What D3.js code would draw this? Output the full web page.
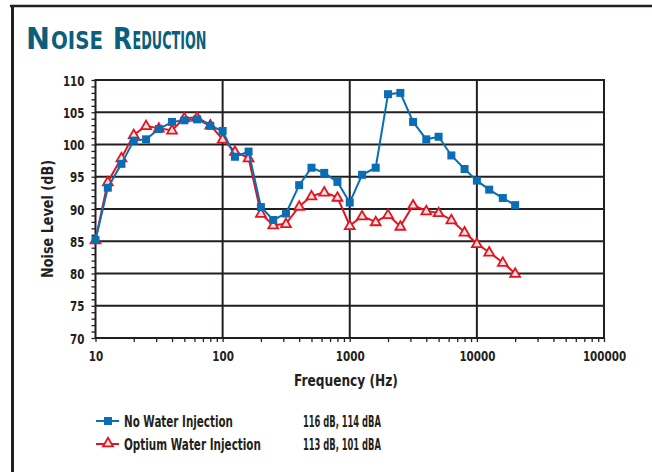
<!DOCTYPE html>
<html>
<head>
<meta charset="utf-8">
<script src="https://cdn.jsdelivr.net/npm/d3@7"></script>
<style>
  body { margin: 0; background: #fff; }
  svg text { font-family: "Liberation Sans Narrow", "DejaVu Sans Condensed", sans-serif; font-weight: bold; fill: #231f20; }
</style>
</head>
<body>
<div id="chart"></div>
<script>
// 1/3 octave band centre frequencies (Hz)
const frequencies = [10, 12.5, 16, 20, 25, 31.5, 40, 50, 63, 80, 100, 125, 160, 200, 250, 315, 400, 500, 630, 800,
    1000, 1250, 1600, 2000, 2500, 3150, 4000, 5000, 6300, 8000, 10000, 12500, 16000, 20000];

// Noise level (dB) without water injection
const noWater = [85.2, 93.3, 97.0, 100.6, 100.8, 102.4, 103.5, 103.75, 103.9, 102.9, 102.1, 98.1, 98.9, 90.3, 88.3, 89.3,
    93.7, 96.4, 95.6, 94.2, 91.0, 95.3, 96.4, 107.8, 108.0, 103.5, 100.8, 101.2, 98.3, 96.2, 94.4, 93.0, 91.7, 90.6];

// Noise level (dB) with optium water injection
const withWater = [85.2, 94.2, 97.9, 101.5, 102.9, 102.5, 102.2, 104.1, 104.2, 103.0, 100.8, 98.9, 97.9, 89.3, 87.5, 87.7,
    90.4, 92.0, 92.6, 91.8, 87.4, 88.9, 88.0, 89.1, 87.3, 90.6, 89.7, 89.4, 88.3, 86.4, 84.6, 83.3, 81.7, 80.0];

const xTicks = [10, 100, 1000, 10000, 100000];
const yTicks = [70, 75, 80, 85, 90, 95, 100, 105, 110];

const legendNames = ['No Water Injection', 'Optium Water Injection'];
const legendValues = ['116 dB, 114 dBA', '113 dB, 101 dBA'];

const width = 652, height = 472;
const blue = '#0b6db4', red = '#e3141f', ink = '#231f20';

const svg = d3.select('#chart').append('svg')
    .attr('width', width)
    .attr('height', height);

// squeeze text horizontally to a given width (the condensed face is not installed)
function fit(sel, w) {
    const node = sel.node();
    const x0 = +sel.attr('x') || 0;
    const k = w / node.getComputedTextLength();
    sel.attr('transform', `translate(${x0},0) scale(${k},1) translate(${-x0},0)`);
}

// outer frame (top and left edges visible)
svg.append('line').attr('x1', 10).attr('x2', width).attr('y1', 6).attr('y2', 6)
    .attr('stroke', ink).attr('stroke-width', 2.5);
svg.append('line').attr('x1', 12.5).attr('x2', 12.5).attr('y1', 5).attr('y2', height)
    .attr('stroke', ink).attr('stroke-width', 3);

// title in small caps, each piece placed on its own
const titleParts = [
    { t: 'N', x: 26, w: 24, s: 30 },
    { t: 'OISE', x: 51, w: 52, s: 25.5 },
    { t: 'R', x: 113, w: 19, s: 30 },
    { t: 'EDUCTION', x: 132.5, w: 74, s: 25.5 }
];
titleParts.forEach(p => {
    svg.append('text').attr('x', p.x).attr('y', 49)
        .attr('font-size', p.s)
        .style('fill', '#0c5f7c')
        .text(p.t)
        .call(fit, p.w);
});

// scales
const x = d3.scaleLog().domain([10, 100000]).range([95.5, 604]);
const y = d3.scaleLinear().domain([70, 110]).range([338, 80]);

// gridlines
const grid = svg.append('g').attr('stroke', ink).attr('stroke-width', 2);
grid.selectAll('.h').data(yTicks.slice(1, -1)).enter().append('line')
    .attr('x1', x(10)).attr('x2', x(100000))
    .attr('y1', d => y(d)).attr('y2', d => y(d));
grid.selectAll('.v').data(xTicks.slice(1, -1)).enter().append('line')
    .attr('x1', d => x(d)).attr('x2', d => x(d))
    .attr('y1', y(70)).attr('y2', y(110));
grid.append('rect')
    .attr('x', x(10)).attr('y', y(110))
    .attr('width', x(100000) - x(10)).attr('height', y(70) - y(110))
    .attr('fill', 'none');

// y axis: labels and 1 dB minor ticks
const yAxis = d3.axisLeft(y)
    .tickValues(d3.range(70, 111, 1))
    .tickSize(4)
    .tickFormat(d => d % 5 === 0 ? d : '');
const gy = svg.append('g').attr('transform', `translate(${x(10)},0)`).call(yAxis);
gy.select('.domain').remove();
gy.selectAll('line').attr('stroke', ink).attr('stroke-width', 1.3);
gy.selectAll('text').attr('font-size', 14.5).attr('x', -11).attr('dy', '0.36em')
    .each(function () {
        const s = d3.select(this).text();
        if (s) fit(d3.select(this), s.length * 7.2);
    });

// x axis: decade labels and minor log ticks
const minor = [];
for (let p = 10; p < 100000; p *= 10) {
    for (let k = 1; k <= 9; k++) minor.push(p * k);
}
minor.push(100000);
const xAxis = d3.axisBottom(x)
    .tickValues(minor)
    .tickSize(4)
    .tickFormat(d => xTicks.includes(d) ? d : '');
const gx = svg.append('g').attr('transform', `translate(0,${y(70)})`).call(xAxis);
gx.select('.domain').remove();
gx.selectAll('line').attr('stroke', ink).attr('stroke-width', 1.3);
gx.selectAll('text').attr('font-size', 14.5).attr('y', 13)
    .each(function () {
        const s = d3.select(this).text();
        if (s) fit(d3.select(this), s.length * 7.2);
    });

// axis titles
svg.append('text')
    .attr('transform', `translate(53,219) rotate(-90)`)
    .attr('text-anchor', 'middle')
    .attr('font-size', 15.5)
    .attr('textLength', 118).attr('lengthAdjust', 'spacingAndGlyphs')
    .text('Noise Level (dB)');
svg.append('text')
    .attr('x', 346).attr('y', 386)
    .attr('text-anchor', 'middle')
    .attr('font-size', 15.5)
    .text('Frequency (Hz)')
    .call(fit, 104);

// series
const line = d3.line().x(d => x(d[0])).y(d => y(d[1]));
const redData = frequencies.map((f, i) => [f, withWater[i]]);
const blueData = frequencies.map((f, i) => [f, noWater[i]]);

const tri = d3.symbol().type(d3.symbolTriangle).size(42);

svg.append('path').datum(redData)
    .attr('d', line).attr('fill', 'none').attr('stroke', red).attr('stroke-width', 2);
svg.append('g').selectAll('path').data(redData).enter().append('path')
    .attr('d', tri)
    .attr('transform', d => `translate(${x(d[0])},${y(d[1]) + 0.5})`)
    .attr('fill', '#fbe3e3').attr('stroke', red).attr('stroke-width', 1.8);

svg.append('path').datum(blueData)
    .attr('d', line).attr('fill', 'none').attr('stroke', blue).attr('stroke-width', 2);
svg.append('g').selectAll('rect').data(blueData).enter().append('rect')
    .attr('x', d => x(d[0]) - 4).attr('y', d => y(d[1]) - 4)
    .attr('width', 8).attr('height', 8)
    .attr('fill', blue);

// legend
const legendY = [421, 444];
const nameWidths = [109, 137];
const lg = svg.append('g');
lg.selectAll('line').data(legendY).enter().append('line')
    .attr('x1', 96).attr('x2', 119)
    .attr('y1', d => d).attr('y2', d => d)
    .attr('stroke', (d, i) => i === 0 ? blue : red)
    .attr('stroke-width', 2);
lg.append('rect').attr('x', 104).attr('y', legendY[0] - 4).attr('width', 8).attr('height', 8).attr('fill', blue);
lg.append('path').attr('d', tri)
    .attr('transform', `translate(108,${legendY[1] - 0.5})`)
    .attr('fill', '#fbe3e3').attr('stroke', red).attr('stroke-width', 1.8);
lg.selectAll('.name').data(legendNames).enter().append('text')
    .attr('x', 124).attr('y', (d, i) => legendY[i] + 6)
    .attr('font-size', 16.5)
    .text(d => d)
    .each(function (d, i) { fit(d3.select(this), nameWidths[i]); });
lg.selectAll('.val').data(legendValues).enter().append('text')
    .attr('x', 303).attr('y', (d, i) => legendY[i] + 6)
    .attr('font-size', 16.5)
    .text(d => d)
    .each(function () { fit(d3.select(this), 78); });
</script>
</body>
</html>
